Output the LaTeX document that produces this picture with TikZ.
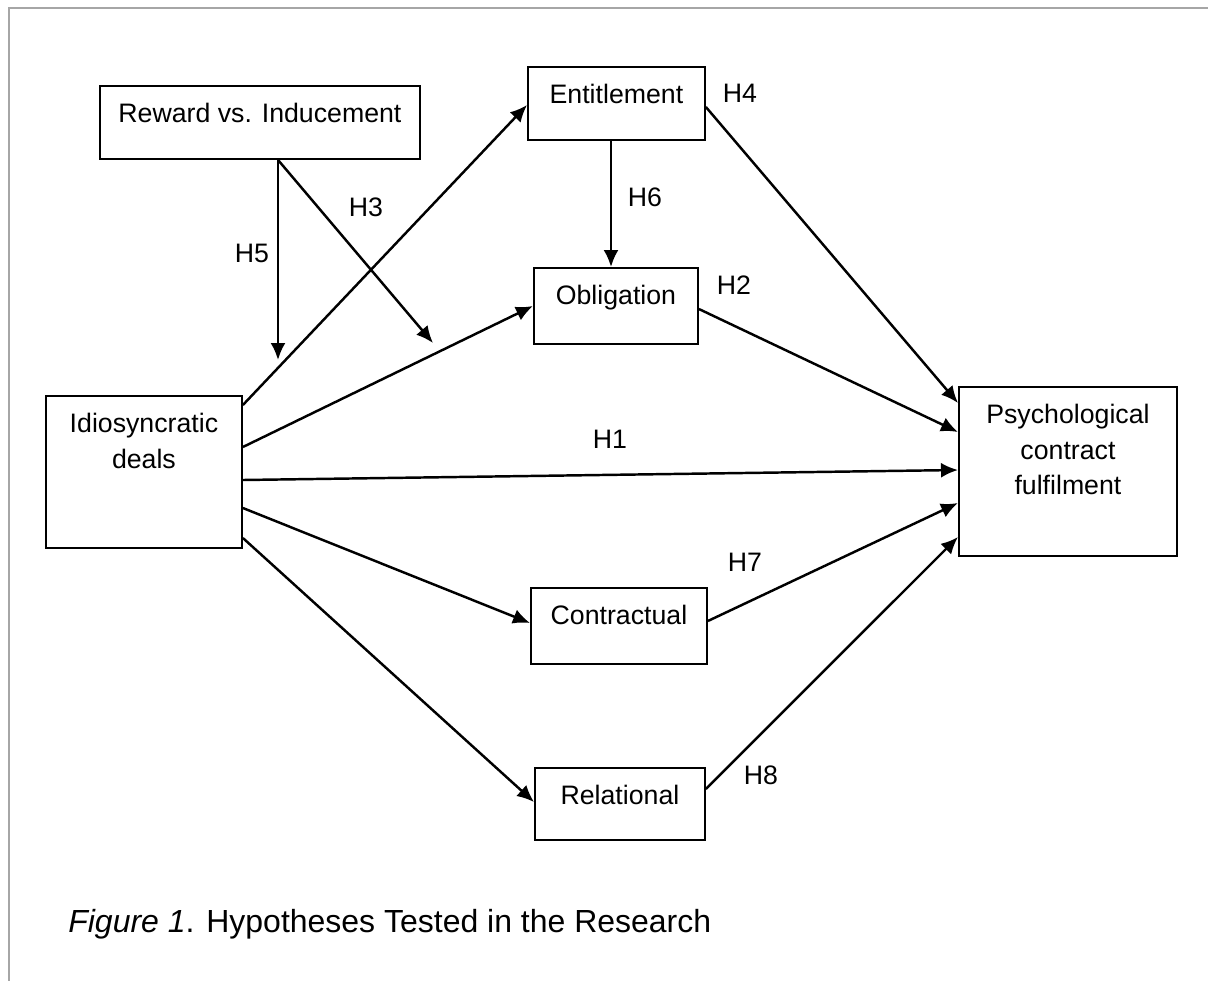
\documentclass[tikz,border=0pt]{standalone}
\usepackage{fontspec}
\setmainfont{Liberation Sans}
\usetikzlibrary{arrows.meta}

\tikzset{
    box/.style={draw, line width=1.1pt, anchor=north west, inner sep=0pt, align=center, text height=0.74cm},
    arr/.style={line width=1.4pt, -{Latex[length=0.34cm,width=0.3cm]}},
    hyp/.style={inner sep=0pt}
}

\begin{document}
\begin{tikzpicture}[x=0.02cm, y=-0.02cm, font=\fontsize{15.2}{20.2}\selectfont]

    \useasboundingbox (0,0) rectangle (1208,981);
    \draw[gray!70, line width=0.8pt] (9,981) -- (9,8) -- (1208,8);

    \node[box, minimum width=6.4cm,  text depth=0.72cm] (reward) at (99,85)  {Reward vs. Inducement};
    \node[box, minimum width=3.54cm, text depth=0.72cm] (ent)    at (527,66) {Entitlement};
    \node[box, minimum width=3.28cm, text depth=0.78cm] (obl)    at (533,267) {Obligation};
    \node[box, minimum width=3.92cm, text height=1.45cm, text depth=1.59cm] (idio) at (45,395) {Idiosyncratic\\deals};
    \node[box, minimum width=4.36cm, text height=2.16cm, text depth=1.22cm] (pcf)  at (958,386) {Psychological\\contract\\fulfilment};
    \node[box, minimum width=3.52cm, text depth=0.78cm] (con)    at (530,587) {Contractual};
    \node[box, minimum width=3.40cm, text depth=0.70cm] (rel)    at (534,767) {Relational};

    \coordinate (h5tip) at (278,360);
    \coordinate (h3tip) at (433,343);
    \draw[arr] (reward.south -| h5tip) -- (h5tip);
    \draw[arr] (reward.south -| h5tip) -- (h3tip);

    \draw[arr] (idio.east |- 0,405) -- (ent.west |- 0,105);
    \draw[arr] (idio.east |- 0,447) -- (obl.west |- 0,306);
    \draw[arr] (idio.east |- 0,480) -- (pcf.west |- 0,470);
    \draw[arr] (idio.east |- 0,508) -- (con.west |- 0,623);
    \draw[arr] (idio.east |- 0,538) -- (rel.west |- 0,802);

    \draw[arr] (ent.south -| 611,0) -- (obl.north -| 611,0);
    \draw[arr] (ent.east |- 0,107) -- (pcf.west |- 0,403);
    \draw[arr] (obl.east |- 0,309) -- (pcf.west |- 0,432);
    \draw[arr] (con.east |- 0,621) -- (pcf.west |- 0,503);
    \draw[arr] (rel.east |- 0,789) -- (pcf.west |- 0,537);

    \node[hyp] (h1) at (610,439) {H1};
    \node[hyp] (h2) at (734,285) {H2};
    \node[hyp] (h3) at (366,207) {H3};
    \node[hyp] (h4) at (740,93)  {H4};
    \node[hyp] (h5) at (252,253) {H5};
    \node[hyp] (h6) at (645,197) {H6};
    \node[hyp] (h7) at (745,562) {H7};
    \node[hyp] (h8) at (761,775) {H8};

    \node[anchor=base west, inner sep=0pt, font=\fontsize{18.2}{22}\selectfont] (caption) at (68,932) {\textit{Figure 1}. Hypotheses Tested in the Research};

\end{tikzpicture}
\end{document}
